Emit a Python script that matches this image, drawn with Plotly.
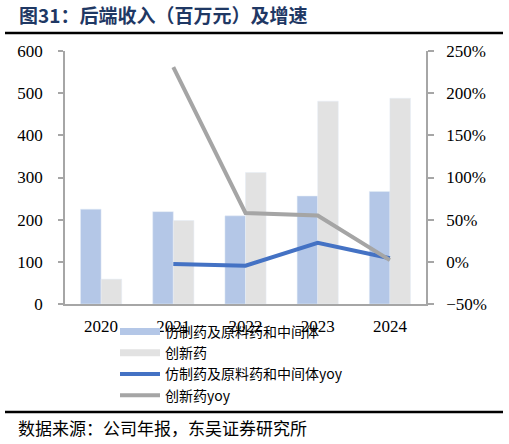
import plotly.graph_objects as go

years = ["2020", "2021", "2022", "2023", "2024"]
generic_rev = [225, 219, 209, 256, 267]
innov_rev = [59, 198, 312, 481, 488]
generic_yoy = [None, -2.7, -4.5, 22.5, 4.3]
innov_yoy = [None, 231, 58, 55, 2]

name_g = "仿制药及原料药和中间体"
name_i = "创新药"
name_gy = "仿制药及原料药和中间体yoy"
name_iy = "创新药yoy"

c_gbar = "#B4C7E7"
c_ibar = "#E2E2E2"
c_gline = "#4472C4"
c_iline = "#A5A5A5"
axis_c = "#A6A6A6"

W, H = 509, 444
L, R, T, B = 65, 426, 51, 304

def px_x(p):
    return (p - L) / (R - L)

def px_y(p):
    return (B - p) / (B - T)

fig = go.Figure()
fig.add_trace(go.Bar(x=years, y=generic_rev, marker_color=c_gbar, showlegend=False, name=name_g))
fig.add_trace(go.Bar(x=years, y=innov_rev, marker_color=c_ibar, showlegend=False, name=name_i))
fig.add_trace(go.Scatter(x=years, y=generic_yoy, yaxis="y2", mode="lines",
                         line=dict(color=c_gline, width=4), showlegend=False, name=name_gy))
fig.add_trace(go.Scatter(x=years, y=innov_yoy, yaxis="y2", mode="lines",
                         line=dict(color=c_iline, width=4), showlegend=False, name=name_iy))

# legend entries
for nm, col, w in [(name_g, c_gbar, 7), (name_i, c_ibar, 7), (name_gy, c_gline, 4), (name_iy, c_iline, 4)]:
    fig.add_trace(go.Scatter(x=[None], y=[None], mode="lines", name=nm,
                             line=dict(color=col, width=w), showlegend=True))

tickfont = dict(family="Liberation Serif", size=17, color="#000000")

fig.update_layout(
    width=W, height=H,
    margin=dict(l=L, r=W - R, t=T, b=H - B, pad=0),
    paper_bgcolor="white", plot_bgcolor="white",
    barmode="group", bargap=0.43, bargroupgap=0,
    xaxis=dict(type="category", showgrid=False, showline=True, linecolor=axis_c, linewidth=1.5,
               ticks="", tickfont=tickfont, ticklabelstandoff=6, fixedrange=True),
    yaxis=dict(range=[0, 600], dtick=100, showgrid=False, showline=True, linecolor=axis_c,
               linewidth=1.5, ticks="outside", ticklen=5, tickcolor=axis_c, tickwidth=1.5,
               tickfont=tickfont, ticklabelstandoff=12, zeroline=False),
    yaxis2=dict(range=[-50, 250], dtick=50, overlaying="y", side="right", showgrid=False,
                showline=True, linecolor=axis_c, linewidth=1.5, ticks="outside", ticklen=6,
                tickcolor=axis_c, tickwidth=1.5, tickfont=tickfont, ticksuffix="%",
                ticklabelstandoff=9, zeroline=False),
    legend=dict(x=px_x(115), y=px_y(316), xanchor="left", yanchor="top",
                font=dict(family="Noto Sans CJK SC", size=14, color="#000000"),
                bgcolor="rgba(0,0,0,0)", itemwidth=40, tracegroupgap=0),
    showlegend=True,
)

fig.add_annotation(text="<b>图31：后端收入（百万元）及增速</b>", xref="paper", yref="paper",
                   x=px_x(17), y=px_y(15), xanchor="left", yanchor="middle", showarrow=False,
                   font=dict(family="Noto Sans CJK SC", size=19, color="#1F3864"))
fig.add_annotation(text="数据来源：公司年报，东吴证券研究所", xref="paper", yref="paper",
                   x=px_x(16), y=px_y(427), xanchor="left", yanchor="middle", showarrow=False,
                   font=dict(family="Noto Sans CJK SC", size=17, color="#000000"))

for yy in (33, 412):
    fig.add_shape(type="line", xref="paper", yref="paper", x0=px_x(5), x1=px_x(503),
                  y0=px_y(yy), y1=px_y(yy), line=dict(color="#000000", width=2.5))

fig.write_html("out.html", config={"displayModeBar": False},
               post_script="document.body.style.margin='0';document.body.style.overflow='hidden';")
